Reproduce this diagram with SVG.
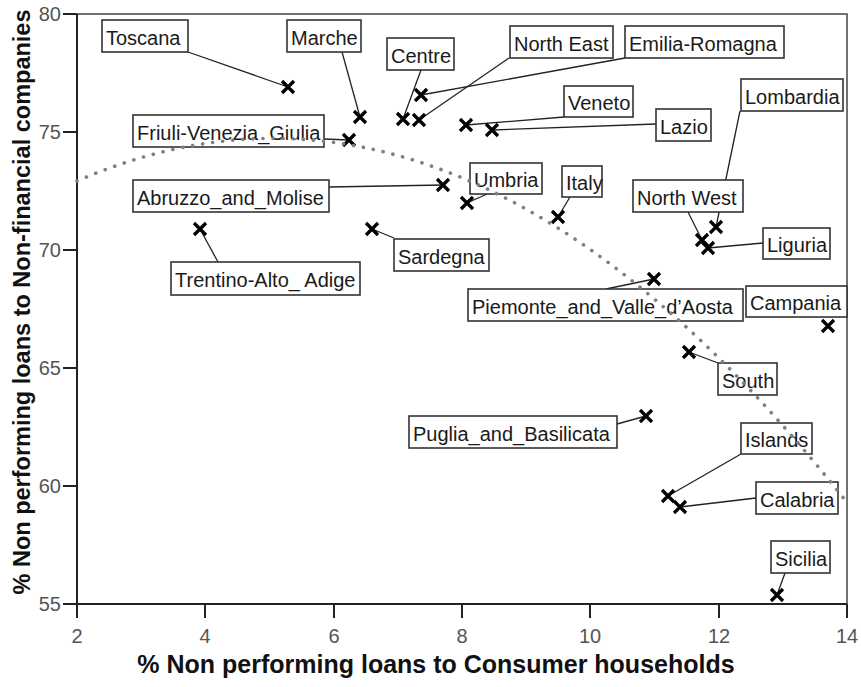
<svg xmlns="http://www.w3.org/2000/svg" xmlns:xlink="http://www.w3.org/1999/xlink" width="861" height="687" viewBox="0 0 861 687">
<style>
.bg{fill:#fff}
.box{fill:#fff;stroke:#333;stroke-width:1.6}
.lbl{font-family:"Liberation Sans",Arial,sans-serif;font-size:20px;fill:#1a1a1a}
.tick{font-family:"Liberation Sans",Arial,sans-serif;font-size:20px;fill:#555}
.title{font-family:"Liberation Sans",Arial,sans-serif;font-weight:bold;fill:#111}
.ax{stroke:#222;stroke-width:2;fill:none}
.frame{stroke:#444;stroke-width:1.5;fill:none}
.lead{stroke:#222;stroke-width:1.3;fill:none}
.fit{stroke:#808080;stroke-width:3.6;fill:none;stroke-linecap:round;stroke-dasharray:0.1 10}
</style>
<defs>
<path id="x" d="M-6,-6 L6,6 M-6,6 L6,-6" stroke="#000" stroke-width="3.3" fill="none"/>
</defs>
<rect class="bg" width="861" height="687"/>
<g id="axes">
<path class="frame" d="M77,14 H847 V604"/>
<path class="ax" d="M77,14 V604 H847"/>
<path class="ax" d="M63,14 H77 M63,132 H77 M63,250 H77 M63,368 H77 M63,486 H77 M63,604 H77"/>
<path class="ax" d="M77,604 V618 M205,604 V618 M334,604 V618 M462,604 V618 M590,604 V618 M719,604 V618 M847,604 V618"/>
<g class="tick" text-anchor="end">
<text x="61" y="21">80</text>
<text x="61" y="139">75</text>
<text x="61" y="257">70</text>
<text x="61" y="375">65</text>
<text x="61" y="493">60</text>
<text x="61" y="611">55</text>
</g>
<g class="tick" text-anchor="middle">
<text x="77" y="643">2</text>
<text x="205" y="643">4</text>
<text x="334" y="643">6</text>
<text x="462" y="643">8</text>
<text x="590" y="643">10</text>
<text x="719" y="643">12</text>
<text x="847" y="643">14</text>
</g>
<text class="title" x="436" y="673" text-anchor="middle" font-size="25">% Non performing loans to Consumer households</text>
<text class="title" transform="translate(30,302) rotate(-90)" text-anchor="middle" font-size="23.5">% Non performing loans to Non-financial companies</text>
</g>
<g id="connectors">
<line class="lead" x1="188" y1="52" x2="288" y2="87"/>
<line class="lead" x1="342" y1="52" x2="360" y2="117"/>
<line class="lead" x1="421" y1="70" x2="403" y2="119"/>
<line class="lead" x1="509" y1="58" x2="419" y2="120"/>
<line class="lead" x1="625" y1="58" x2="421" y2="95"/>
<line class="lead" x1="564" y1="117" x2="466" y2="125"/>
<line class="lead" x1="656" y1="124" x2="492" y2="130"/>
<line class="lead" x1="324" y1="139" x2="349" y2="140"/>
<line class="lead" x1="329" y1="187" x2="443" y2="185"/>
<line class="lead" x1="487" y1="194" x2="467" y2="203"/>
<line class="lead" x1="570" y1="197" x2="558" y2="217"/>
<line class="lead" x1="740" y1="111" x2="716" y2="227"/>
<line class="lead" x1="688" y1="212" x2="702" y2="240"/>
<line class="lead" x1="763" y1="243" x2="708" y2="248"/>
<line class="lead" x1="218" y1="262" x2="200" y2="229"/>
<line class="lead" x1="394" y1="238" x2="372" y2="229"/>
<line class="lead" x1="606" y1="289" x2="654" y2="279"/>
<line class="lead" x1="718" y1="363" x2="689" y2="352"/>
<line class="lead" x1="617" y1="424" x2="646" y2="416"/>
<line class="lead" x1="741" y1="454" x2="668" y2="496"/>
<line class="lead" x1="756" y1="498" x2="680" y2="507"/>
<line class="lead" x1="785" y1="573" x2="777" y2="595"/>
</g>
<g id="toscana"><rect class="box" x="102" y="20" width="86" height="32"/><text class="lbl" x="106" y="44.5">Toscana</text><use xlink:href="#x" href="#x" x="288" y="87"/></g>
<g id="marche"><rect class="box" x="287" y="20" width="74" height="32"/><text class="lbl" x="291" y="44.5">Marche</text><use xlink:href="#x" href="#x" x="360" y="117"/></g>
<g id="centre"><rect class="box" x="387" y="38" width="67" height="32"/><text class="lbl" x="391" y="62.5">Centre</text><use xlink:href="#x" href="#x" x="403" y="119"/></g>
<g id="north-east"><rect class="box" x="510" y="26" width="103" height="32"/><text class="lbl" x="514" y="50.5">North East</text><use xlink:href="#x" href="#x" x="419" y="120"/></g>
<g id="emilia-romagna"><rect class="box" x="625" y="26" width="159" height="32"/><text class="lbl" x="629" y="50.5">Emilia-Romagna</text><use xlink:href="#x" href="#x" x="421" y="95"/></g>
<g id="veneto"><rect class="box" x="564" y="86" width="69" height="31"/><text class="lbl" x="568" y="110">Veneto</text><use xlink:href="#x" href="#x" x="466" y="125"/></g>
<g id="lazio"><rect class="box" x="656" y="109" width="55" height="32"/><text class="lbl" x="660" y="133.5">Lazio</text><use xlink:href="#x" href="#x" x="492" y="130"/></g>
<g id="lombardia"><rect class="box" x="741" y="79" width="102" height="32"/><text class="lbl" x="745" y="103.5">Lombardia</text><use xlink:href="#x" href="#x" x="716" y="227"/></g>
<g id="friuli"><rect class="box" x="133" y="115" width="191" height="32"/><text class="lbl" x="137" y="139.5">Friuli-Venezia_Giulia</text><use xlink:href="#x" href="#x" x="349" y="140"/></g>
<g id="abruzzo"><rect class="box" x="133" y="180" width="196" height="32"/><text class="lbl" x="137" y="204.5">Abruzzo_and_Molise</text><use xlink:href="#x" href="#x" x="443" y="185"/></g>
<g id="umbria"><rect class="box" x="470" y="163" width="72" height="31"/><text class="lbl" x="474" y="187">Umbria</text><use xlink:href="#x" href="#x" x="467" y="203"/></g>
<g id="italy"><rect class="box" x="562" y="166" width="40" height="31"/><text class="lbl" x="566" y="190">Italy</text><use xlink:href="#x" href="#x" x="558" y="217"/></g>
<g id="north-west"><rect class="box" x="633" y="180" width="110" height="32"/><text class="lbl" x="637" y="204.5">North West</text><use xlink:href="#x" href="#x" x="702" y="240"/></g>
<g id="liguria"><rect class="box" x="763" y="228" width="67" height="31"/><text class="lbl" x="767" y="252">Liguria</text><use xlink:href="#x" href="#x" x="708" y="248"/></g>
<g id="trentino"><rect class="box" x="171" y="262" width="189" height="33"/><text class="lbl" x="175" y="287">Trentino-Alto_ Adige</text><use xlink:href="#x" href="#x" x="200" y="229"/></g>
<g id="sardegna"><rect class="box" x="394" y="239" width="95" height="32"/><text class="lbl" x="398" y="263.5">Sardegna</text><use xlink:href="#x" href="#x" x="372" y="229"/></g>
<g id="piemonte"><rect class="box" x="468" y="289" width="275" height="32"/><text class="lbl" x="472" y="313.5">Piemonte_and_Valle_d’Aosta</text><use xlink:href="#x" href="#x" x="654" y="279"/></g>
<g id="campania"><rect class="box" x="746" y="286" width="101" height="31"/><text class="lbl" x="750" y="310">Campania</text><use xlink:href="#x" href="#x" x="828" y="326"/></g>
<g id="south"><rect class="box" x="718" y="363" width="59" height="32"/><text class="lbl" x="722" y="387.5">South</text><use xlink:href="#x" href="#x" x="689" y="352"/></g>
<g id="puglia"><rect class="box" x="409" y="416" width="208" height="32"/><text class="lbl" x="413" y="440.5">Puglia_and_Basilicata</text><use xlink:href="#x" href="#x" x="646" y="416"/></g>
<g id="islands"><rect class="box" x="741" y="423" width="71" height="31"/><text class="lbl" x="745" y="447">Islands</text><use xlink:href="#x" href="#x" x="668" y="496"/></g>
<g id="calabria"><rect class="box" x="756" y="482" width="82" height="32"/><text class="lbl" x="760" y="506.5">Calabria</text><use xlink:href="#x" href="#x" x="680" y="507"/></g>
<g id="sicilia"><rect class="box" x="771" y="541" width="59" height="32"/><text class="lbl" x="775" y="565.5">Sicilia</text><use xlink:href="#x" href="#x" x="777" y="595"/></g>
<g id="fit-line"><path class="fit" d="M77,181 Q462,13.8 847,502.5"/></g>
</svg>
